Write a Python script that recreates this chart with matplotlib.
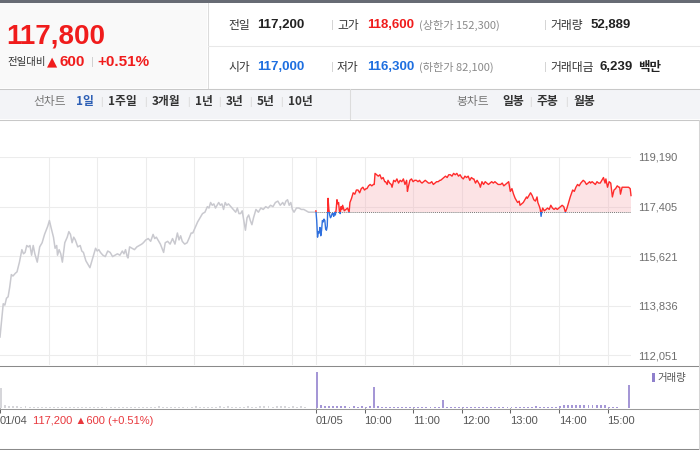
import numpy as np
import matplotlib.pyplot as plt
from matplotlib.patches import Rectangle
from matplotlib.lines import Line2D

# 시세 요약
prev_close = 117200
price_ticks = [119190, 117405, 115621, 113836, 112051]

# 01/04 (장 시작 후 분, 가격)
day1_min = [0, 2, 4, 6, 8, 10, 12, 14, 16, 19, 21, 24, 27, 29, 31, 33, 35, 37, 39, 41,
            43, 46, 49, 52, 55, 57, 59, 61, 63, 66, 68, 70, 71, 73, 75, 77, 80, 83, 85, 87,
            89, 91, 93, 96, 99, 101, 103, 106, 109, 111, 113, 116, 118, 120, 122, 124, 127, 130, 133, 136,
            139, 142, 145, 148, 151, 153, 155, 157, 158, 160, 163, 166, 169, 172, 175, 177, 180, 183, 186, 189,
            191, 193, 195, 198, 200, 202, 204, 207, 210, 213, 216, 219, 221, 223, 225, 228, 231, 234, 236, 238,
            241, 244, 247, 250, 253, 256, 258, 260, 262, 264, 266, 268, 270, 272, 274, 276, 278, 280, 282, 285,
            288, 291, 293, 295, 297, 299, 301, 303, 305, 307, 309, 311, 313, 316, 319, 322, 325, 328, 331, 334,
            337, 340, 343, 346, 349, 351, 353, 355, 357, 359, 361, 363, 366, 369, 372, 375, 378, 381, 385, 390]
day1_px = [112700, 113300, 113900, 113850, 114100, 114150, 114500, 114950, 114900, 115000,
           115050, 115400, 115850, 115700, 115750, 116000, 115950, 116000, 115650, 116000,
           115700, 115400, 115950, 116100, 116400, 116550, 116700, 116900, 116650, 116300,
           115900, 116000, 115650, 115850, 115700, 115400, 116100, 116300, 116500, 116400,
           116100, 116300, 116200, 115950, 116000, 115800, 115750, 115450, 115300, 115200,
           115400, 115700, 115900, 115800, 115850, 115750, 115650, 115600, 115800, 115750,
           115600, 115650, 115700, 115650, 115800, 115700, 115850, 115600, 115550, 115950,
           115900, 115850, 115950, 116000, 116050, 116100, 116200, 116250, 116150, 116400,
           116250, 116300, 116200, 116050, 115900, 115750, 116100, 116150, 116050, 116250,
           116050, 116450, 116200, 116350, 116150, 116050, 116100, 116300, 116450, 116450,
           116650, 116850, 117000, 117150, 117200, 117400, 117350, 117550, 117450, 117500,
           117350, 117450, 117550, 117450, 117500, 117300, 117550, 117450, 117500, 117400,
           117300, 117200, 117350, 117150, 117150, 117250, 116900, 116550, 117000, 117100,
           116900, 116750, 117000, 117300, 117200, 117350, 117300, 117400, 117350, 117450,
           117400, 117550, 117600, 117450, 117550, 117450, 117600, 117650, 117450, 117550,
           117300, 117200, 117350, 117350, 117300, 117300, 117250, 117200, 117200, 117200]

# 01/05
day2_min = [0, 1, 2, 3, 4, 5, 6, 7, 8, 9, 10, 11, 12, 13, 14, 15, 16, 17, 18, 19,
            20, 21, 22, 23, 24, 25, 26, 27, 28, 29, 30, 31, 32, 33, 35, 37, 39, 41, 42, 44,
            46, 48, 50, 52, 54, 56, 58, 60, 62, 63, 65, 67, 69, 71, 72, 73, 75, 77, 79, 81,
            83, 85, 86, 88, 89, 91, 93, 94, 96, 98, 100, 102, 104, 106, 108, 110, 112, 113, 114, 116,
            118, 120, 122, 124, 126, 128, 129, 131, 133, 135, 137, 139, 141, 143, 145, 147, 149, 151, 153, 154,
            156, 158, 160, 162, 164, 166, 168, 170, 172, 174, 176, 178, 180, 182, 184, 186, 188, 190, 192, 194,
            195, 197, 199, 200, 202, 203, 205, 207, 209, 211, 213, 215, 217, 219, 221, 223, 225, 228, 230, 232,
            234, 236, 238, 240, 242, 244, 246, 248, 249, 251, 252, 254, 256, 258, 260, 261, 263, 265, 267, 269,
            271, 273, 274, 276, 277, 278, 279, 280, 282, 284, 286, 288, 290, 292, 294, 296, 298, 300, 302, 304,
            306, 308, 310, 312, 314, 317, 319, 321, 323, 325, 327, 330, 332, 334, 336, 338, 339, 341, 343, 345,
            347, 349, 351, 353, 355, 357, 358, 360, 362, 364, 366, 368, 370, 372, 374, 375, 376, 378, 380, 383,
            386, 388, 389]
day2_px = [117250, 116900, 116300, 116500, 116450, 116650, 116350, 116550, 116900, 116850,
           116950, 116900, 116600, 116550, 116700, 117700, 117300, 117100, 117000, 117050,
           117150, 117150, 117050, 117200, 117100, 117300, 117650, 117500, 117550, 117250,
           117150, 117400, 117300, 117450, 117250, 117300, 117350, 117200, 117550, 117700,
           117900, 117850, 118000, 118000, 117900, 118050, 118100, 118000, 118050, 118050,
           118150, 118200, 118150, 118200, 118200, 118600, 118550, 118500, 118550, 118400,
           118450, 118300, 118300, 118200, 118350, 118250, 118200, 118100, 118350, 118300,
           118400, 118250, 118350, 118300, 118400, 118200, 118350, 117950, 118100, 118350,
           118400, 118300, 118350, 118350, 118300, 118350, 118300, 118250, 118300, 118350,
           118300, 118250, 118250, 118300, 118200, 118250, 118300, 118300, 118350, 118350,
           118400, 118450, 118500, 118450, 118550, 118550, 118500, 118600, 118550, 118600,
           118500, 118550, 118450, 118400, 118500, 118450, 118500, 118350, 118450, 118400,
           118400, 118250, 118350, 118300, 118200, 118100, 118300, 118200, 118300, 118250,
           118200, 118250, 118300, 118250, 118300, 118250, 118200, 118200, 118250, 118150,
           118200, 118250, 118300, 117950, 118050, 117850, 117700, 117600, 117550, 117600,
           117450, 117500, 117550, 117650, 117750, 117700, 117800, 117900, 117800, 117650,
           117600, 117750, 117550, 117400, 117300, 117050, 117250, 117350, 117250, 117300,
           117350, 117300, 117450, 117350, 117300, 117350, 117300, 117350, 117400, 117450,
           117400, 117200, 117350, 117550, 117750, 118000, 117950, 118100, 118200, 118150,
           118250, 118350, 118300, 118200, 118250, 118300, 118250, 118300, 118250, 118200,
           118300, 118250, 118250, 118350, 118450, 118250, 118400, 118100, 118300, 118250,
           117750, 118000, 118050, 118150, 118100, 118100, 117850, 118100, 118100, 118100,
           118100, 118050, 117800]

# 거래량 (5분 단위)
day1_vol = [4400, 700, 450, 400, 350, 300, 350, 300, 250, 300,
            250, 300, 250, 200, 250, 300, 250, 200, 250, 200,
            250, 300, 200, 250, 200, 200, 250, 200, 250, 300,
            250, 200, 200, 250, 200, 250, 200, 250, 300, 350,
            300, 250, 300, 250, 200, 250, 300, 300, 350, 300,
            250, 300, 250, 300, 350, 300, 350, 300, 250, 300,
            300, 350, 300, 300, 350, 400, 350, 300, 350, 400,
            350, 300, 350, 300, 350, 300, 0, 0]
day2_vol = [8000, 600, 450, 400, 450, 350, 400, 350, 300, 350,
            300, 350, 300, 400, 4600, 350, 300, 250, 300, 250,
            250, 300, 250, 200, 250, 300, 250, 300, 250, 200,
            250, 1800, 300, 250, 300, 250, 200, 250, 300, 250,
            250, 200, 250, 300, 250, 200, 250, 300, 250, 300,
            250, 300, 250, 300, 350, 300, 250, 300, 250, 300,
            350, 600, 650, 600, 650, 700, 650, 600, 650, 600,
            600, 650, 300, 300, 250, 0, 0, 5100]

time_ticks = [0, 390, 450, 510, 570, 630, 690, 750]
time_labels = ['01/04', '01/05', '10:00', '11:00', '12:00', '13:00', '14:00', '15:00']

tabs_line = ['1일', '1주일', '3개월', '1년', '3년', '5년', '10년']
tabs_line_x = [76, 108, 152, 195, 226, 257, 288]
tabs_candle = ['일봉', '주봉', '월봉']
tabs_candle_x = [502, 537, 573]

KR = ['Noto Sans CJK KR', 'DejaVu Sans']
NUM = ['Liberation Sans', 'DejaVu Sans']
RED = '#f01c1c'
BLUE = '#1e6fe0'

W, H = 700, 450
fig = plt.figure(figsize=(7, 4.5), dpi=100)


def fx(x):
    return x / W


def fy(y):
    return 1 - y / H


def box(x0, y0, x1, y1, color):
    fig.patches.append(Rectangle((fx(x0), fy(y1)), (x1 - x0) / W, (y1 - y0) / H,
                                 transform=fig.transFigure, facecolor=color,
                                 edgecolor='none', zorder=-5))


def line(x0, y0, x1, y1, color, lw=0.75):
    fig.add_artist(Line2D([fx(x0), fx(x1)], [fy(y0), fy(y1)], transform=fig.transFigure,
                          color=color, lw=lw, zorder=5))


def txt(x, y, s, size, color, weight='normal', family=KR, ha='left'):
    fig.text(fx(x), fy(y), s, fontsize=size, color=color, fontweight=weight,
             family=family, ha=ha, va='center')


# 상단 요약 영역
box(0, 0, 700, 3, '#676b74')
box(0, 3, 207, 88, '#f9f9f9')
line(207.5, 3, 207.5, 88, '#dcdcdc')
line(208, 45.5, 700, 45.5, '#e8e8e8')
line(0, 88.5, 700, 88.5, '#c8c8c8')

txt(6, 36, '117,800', 20, RED, 'bold', NUM)
txt(7, 62, '전일대비', 7.5, '#333333')
txt(47, 62, '▲', 9.5, RED, family=['DejaVu Sans'])
txt(59, 62, '600', 11, RED, 'bold', NUM)
txt(91, 62, '|', 8, '#cccccc', family=NUM)
txt(97, 62, '+0.51%', 11, RED, 'bold', NUM)

for y, items in [(25, [('전일', '117,200', '#222222', None), ('고가', '118,600', RED, '(상한가 152,300)'),
                       ('거래량', '52,889', '#222222', None)]),
                 (67, [('시가', '117,000', BLUE, None), ('저가', '116,300', BLUE, '(하한가 82,100)'),
                       ('거래대금', '6,239', '#222222', None)])]:
    for i, (lab, val, col, note) in enumerate(items):
        x0 = [228, 337, 550][i]
        txt(x0, y, lab, 8.5, '#333333')
        vx = [257, 367, 591 if lab == '거래량' else 600][i]
        txt(vx, y, val, 9.5, col, 'bold', NUM)
        if note:
            txt(419, y, note, 8, '#8a8a8a')
    txt(331, y, '|', 8, '#d0d0d0', family=NUM)
    txt(544, y, '|', 8, '#d0d0d0', family=NUM)
txt(638, 67, '백만', 9, '#222222', 'bold')

# 탭 영역
box(0, 89, 700, 119, '#f3f4f7')
line(0, 119.5, 700, 119.5, '#c8c8c8')
line(350.5, 89, 350.5, 119, '#dcdcdc')
txt(33, 102, '선차트', 8.5, '#777777')
for i, (s, x) in enumerate(zip(tabs_line, tabs_line_x)):
    txt(x, 102, s, 8.5, '#2d5fb5' if i == 0 else '#333333', 'bold')
    if i > 0:
        txt(x - 8, 102, '|', 7, '#d5d5d5', family=NUM)
txt(456, 102, '봉차트', 8.5, '#777777')
for i, (s, x) in enumerate(zip(tabs_candle, tabs_candle_x)):
    txt(x, 102, s, 8.5, '#333333', 'bold')
    if i > 0:
        txt(x - 8, 102, '|', 7, '#d5d5d5', family=NUM)

# 가격 차트
ax = fig.add_axes([0, fy(365), 631 / W, (365 - 157) / H])
ax.set_facecolor('none')
ax.set_xlim(0, 779)
ax.set_ylim(111692, 119190)
for s in ax.spines.values():
    s.set_visible(False)
hours = [60, 120, 180, 240, 300, 360, 390, 450, 510, 570, 630, 690, 750]
ax.set_xticks(hours)
ax.set_yticks(price_ticks)
ax.set_yticklabels([f'{v:,}' for v in price_ticks])
ax.grid(True, color='#ececec', lw=0.75)
ax.set_axisbelow(True)
ax.tick_params(axis='x', length=0, labelbottom=False)
ax.yaxis.tick_right()
ax.tick_params(axis='y', length=0, pad=5, labelsize=8, labelcolor='#6e6e6e')
for lbl in ax.get_yticklabels():
    lbl.set_family(NUM)

x1 = np.array(day1_min)
x2 = np.array(day2_min) + 390
p2 = np.array(day2_px)
ax.plot(x1, day1_px, color='#c9c9cf', lw=1.1, zorder=3)
ax.fill_between(x2, p2, prev_close, where=p2 >= prev_close, interpolate=True,
                color='#f7a9b1', alpha=0.32, lw=0, zorder=2)
ax.hlines(prev_close, 390, x2[-1], colors='#777777', linestyles=(0, (1, 1)), lw=0.7, zorder=3)
red_line, = ax.plot(x2, p2, color='#ff2b2b', lw=1.0, zorder=4)
blue_line, = ax.plot(x2, p2, color='#2f70de', lw=1.0, zorder=4)
red_line.set_clip_path(Rectangle((380, prev_close), 420, 5000, transform=ax.transData))
blue_line.set_clip_path(Rectangle((380, prev_close - 8000), 420, 8000, transform=ax.transData))

# 거래량
axv = fig.add_axes([0, fy(408), 631 / W, (408 - 366) / H])
axv.set_facecolor('none')
axv.set_xlim(0, 779)
axv.set_ylim(0, 9300)
for s in axv.spines.values():
    s.set_visible(False)
vpos = np.arange(0, 390, 5) + 1.5
axv.bar(vpos, day1_vol, width=2.4, color='#d6d6da', lw=0)
axv.bar(vpos + 390, day2_vol, width=2.4, color='#a597d6', lw=0)
axv.set_yticks([])
axv.set_xticks(time_ticks)
axv.set_xticklabels(time_labels)
axv.tick_params(axis='x', length=3.6, width=0.75, color='#666666', pad=2.5,
                labelsize=8, labelcolor='#555555')
for lbl in axv.get_xticklabels():
    lbl.set_ha('left')
    lbl.set_family(NUM)

box(652, 373, 655, 382, '#8f80cc')
txt(657, 377.5, '거래량', 7.5, '#555555')
txt(33, 421, '117,200 ▲600 (+0.51%)', 8, '#e8383d', family=['Liberation Sans', 'DejaVu Sans'])

line(0, 365.5, 700, 365.5, '#8a8a8a')
line(0, 408.5, 700, 408.5, '#9a9a9a')
line(0, 448.5, 700, 448.5, '#8a8a8a')
line(698.5, 120, 698.5, 449, '#d5d5d5')

fig.savefig('out.png', dpi=100)
